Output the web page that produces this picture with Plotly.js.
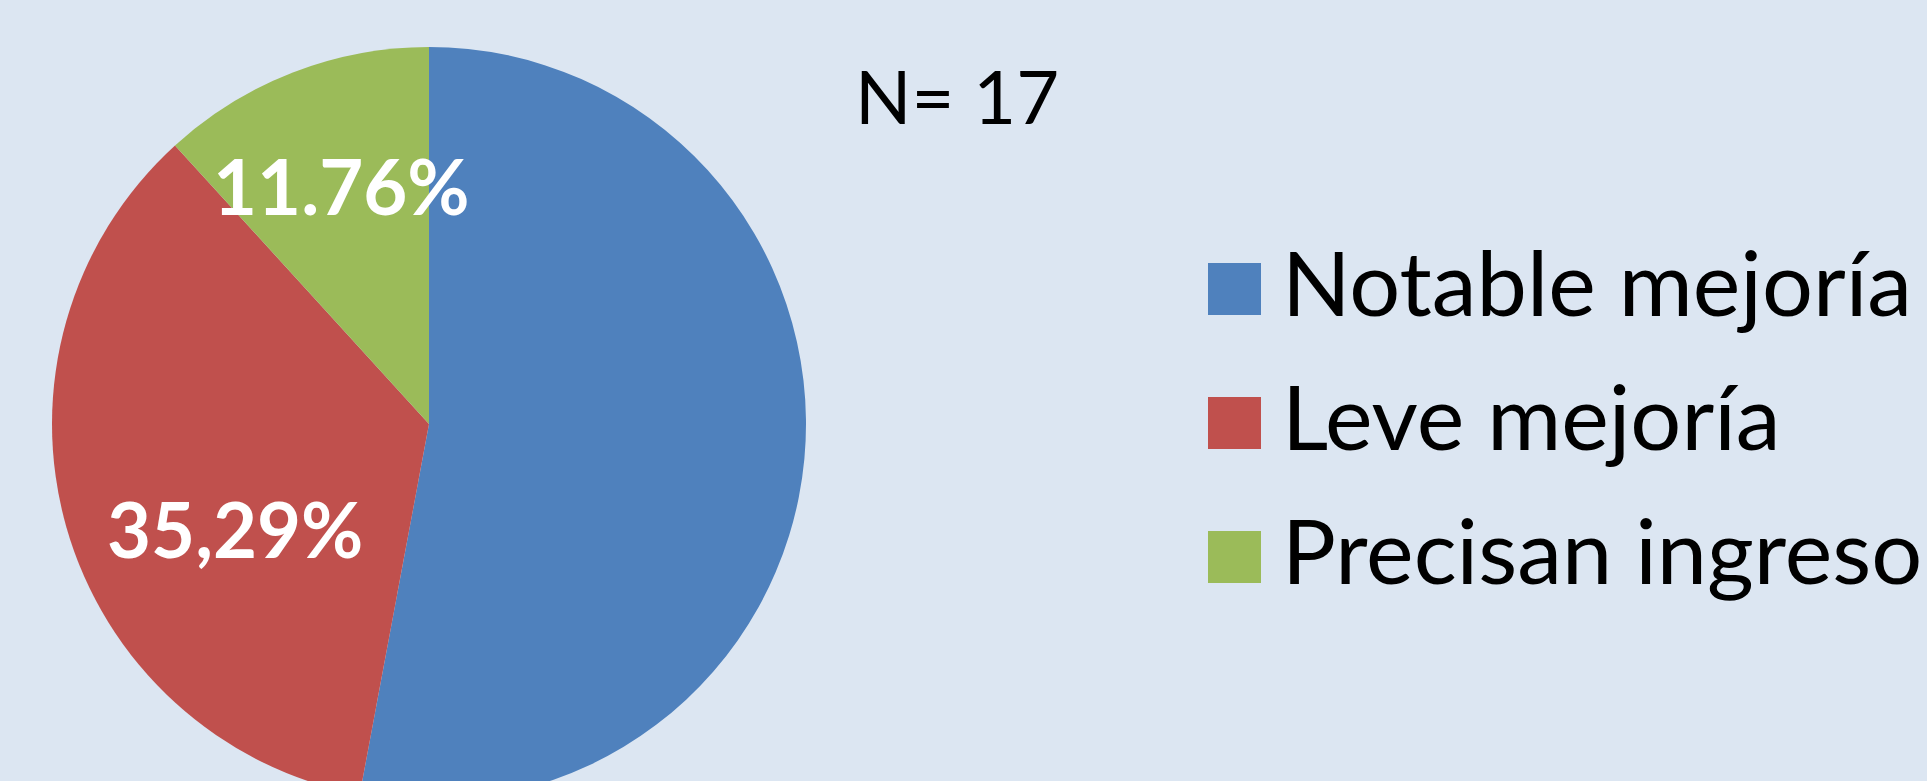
<!DOCTYPE html>
<html>
<head>
<meta charset="utf-8">
<script src="https://cdn.plot.ly/plotly-3.0.1.min.js"></script>
<style>
  html, body { margin: 0; padding: 0; overflow: hidden; background: #DCE6F2; }
  #chart { width: 1927px; height: 850px; }
</style>
</head>
<body>
<div id="chart"></div>
<script>
// ---- data ----
const categories = ['Notable mejoría', 'Leve mejoría', 'Precisan ingreso'];
const values = [9, 6, 2];
const sliceLabels = ['', '35,29%', '11.76%'];
const colors = ['#4F81BD', '#C0504D', '#9BBB59'];

// ---- layout helpers (page pixels -> paper fractions) ----
const W = 1927, H = 850;
const px = x => x / W;
const py = y => 1 - y / H;

const total = values.reduce((a, b) => a + b, 0);

const trace = {
  type: 'pie',
  labels: categories,
  values: values,
  sort: false,
  direction: 'clockwise',
  rotation: 0,
  marker: { colors: colors, line: { width: 0 } },
  textinfo: 'none',
  hoverinfo: 'none',
  showlegend: false,
  domain: { x: [px(52), px(806)], y: [py(801), py(47)] }
};

// slice labels placed as annotations
const labelPos = [null, [235, 528], [341, 185]];
const annotations = [];
sliceLabels.forEach((t, i) => {
  if (!t) return;
  annotations.push({
    text: t, showarrow: false, xref: 'paper', yref: 'paper',
    x: px(labelPos[i][0]), y: py(labelPos[i][1]), xanchor: 'center', yanchor: 'middle',
    font: { family: 'Lato', size: 76, color: '#FFFFFF', weight: 'bold' }
  });
});

// N annotation
annotations.push({
  text: 'N= ' + total, showarrow: false, xref: 'paper', yref: 'paper',
  x: px(853), y: py(96), xanchor: 'left', yanchor: 'middle',
  font: { family: 'Lato', size: 74, color: '#000000' }
});

// manual legend
const rowCenters = [289, 423, 557];
const shapes = [];
categories.forEach((c, i) => {
  const cy = rowCenters[i];
  shapes.push({
    type: 'rect', xref: 'paper', yref: 'paper',
    x0: px(1208), x1: px(1261), y0: py(cy + 26), y1: py(cy - 26),
    fillcolor: colors[i], line: { width: 0 }
  });
  annotations.push({
    text: c, showarrow: false, xref: 'paper', yref: 'paper',
    x: px(1280), y: py(cy - 8), xanchor: 'left', yanchor: 'middle',
    font: { family: 'Lato', size: 90, color: '#000000' }
  });
});

const layout = {
  width: W, height: H,
  margin: { l: 0, r: 0, t: 0, b: 0 },
  paper_bgcolor: '#DCE6F2',
  plot_bgcolor: '#DCE6F2',
  showlegend: false,
  annotations: annotations,
  shapes: shapes
};

Plotly.newPlot('chart', [trace], layout, { displayModeBar: false, staticPlot: true });
</script>
</body>
</html>
